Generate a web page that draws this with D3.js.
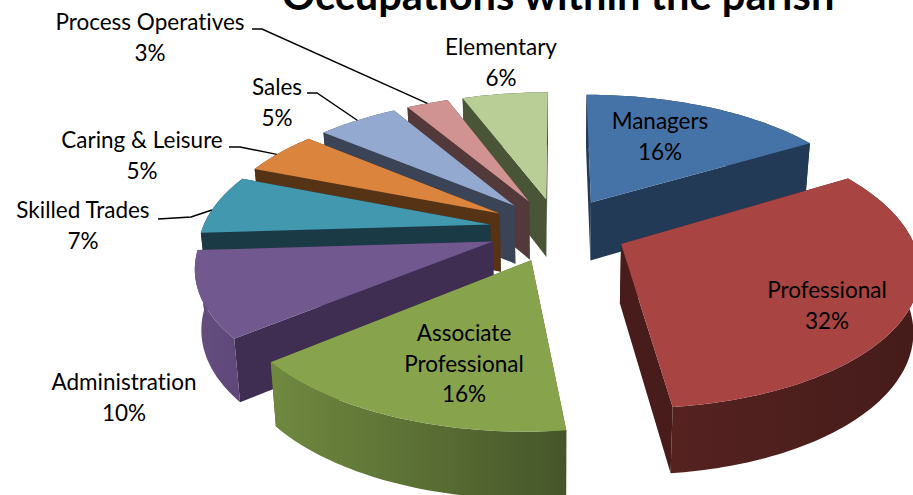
<!DOCTYPE html>
<html>
<head>
<meta charset="utf-8">
<script src="https://cdn.jsdelivr.net/npm/d3@7"></script>
<style>
  html, body { margin: 0; background: #fff; overflow: hidden; }
  text { font-family: Lato, "Open Sans", sans-serif; fill: #000; font-variant-ligatures: none; }
</style>
</head>
<body>
<svg id="chart" width="913" height="495"></svg>
<script>
// Datos (las etiquetas van redondeadas)
const categories = ["Managers", "Professional", "Associate Professional", "Administration",
  "Skilled Trades", "Caring & Leisure", "Sales", "Process Operatives", "Elementary"];
const shares = [16.4, 31.8, 15.8, 10, 7, 5.1, 5.4, 2.8, 5.7];

const topColors  = ["#4673a7", "#a84442", "#87a34c", "#71588f", "#4198af", "#db843d", "#93a9cf", "#d19392", "#b9cd96"];
const sideColors = ["#233a57", "#471c1a", "#46562a", "#402d52", "#1a3a45", "#573316", "#3b4357", "#533939", "#4a5436"];
const rimLeft    = ["#233a57", "#552220", "#70893f", "#644e80", "#1a3a45", "#573316", "#3b4357", "#533939", "#4a5436"];
const rimRight   = ["#233a57", "#451c1a", "#46562a", "#5f4878", "#1a3a45", "#573316", "#3b4357", "#533939", "#4a5436"];

// orden de pintado: del fondo hacia el frente
const paintOrder = [8, 7, 6, 5, 4, 3, 2, 0, 1];

// Layout de etiquetas (centro, linea base), codos de las guias y punto del borde donde llegan
const labelLayout = {
  "Managers": { x: 660, y: 129, lines: ["Managers"] },
  "Professional": { x: 827, y: 298, lines: ["Professional"] },
  "Associate Professional": { x: 464, y: 341, lines: ["Associate", "Professional"] },
  "Administration": { x: 124, y: 390, lines: ["Administration"] },
  "Skilled Trades": { x: 83, y: 218, lines: ["Skilled Trades"], leader: [[158, 219], [191, 217]], at: 0.4 },
  "Caring & Leisure": { x: 142, y: 148, lines: ["Caring & Leisure"], leader: [[229, 147], [240, 147]], at: 0.45 },
  "Sales": { x: 277, y: 95, lines: ["Sales"], leader: [[307, 93], [317, 93]], at: 0.5 },
  "Process Operatives": { x: 150, y: 30, lines: ["Process Operatives"], leader: [[252, 29], [262, 29]], at: 0.5 },
  "Elementary": { x: 501, y: 55, lines: ["Elementary"] }
};

const explode = 0.24, persp = 0.16, dropPx = 59, shrink = 0.018;

const svg = d3.select('#chart');
const defs = svg.append('defs');

const x = d3.scaleLinear().domain([-1, 1]).range([558 - 288, 558 + 288]);
const y = d3.scaleLinear().domain([-1, 1]).range([229.5 + 133, 229.5 - 133]);

// plano del pie -> pantalla, z=0 arriba, z=1 abajo
function project(wx, wy, z) {
  const w = 1 + persp * wy;
  const sx = x(0) + (x(wx / w) - x(0)) * (1 - shrink * z);
  const sy = y(wy / w) + dropPx * z / Math.pow(w, 0.6);
  return [sx, sy];
}

const pie = d3.pie().sort(null).value(d => d);
const arcs = pie(shares);
const line = d3.line();

function apex(a) {
  const mid = (a.startAngle + a.endAngle) / 2;
  return [explode * Math.sin(mid), explode * Math.cos(mid)];
}
function rimPoint(a, t) {
  const c = apex(a);
  return [c[0] + Math.sin(t), c[1] + Math.cos(t)];
}
function rimSamples(a) {
  const n = Math.ceil((a.endAngle - a.startAngle) / 0.02);
  return d3.range(n + 1).map(i => rimPoint(a, a.startAngle + (a.endAngle - a.startAngle) * i / n));
}

paintOrder.forEach(i => {
  const a = arcs[i];
  const c = apex(a);
  const rim = rimSamples(a);
  const g = svg.append('g').attr('class', 'slice');

  const grad = defs.append('linearGradient').attr('id', 'rim' + i);
  grad.append('stop').attr('offset', '0%').attr('stop-color', rimLeft[i]);
  grad.append('stop').attr('offset', '100%').attr('stop-color', rimRight[i]);

  // paredes radiales
  [rim[0], rim[rim.length - 1]].forEach(p => {
    const quad = [project(c[0], c[1], 0), project(p[0], p[1], 0),
      project(p[0], p[1], 1), project(c[0], c[1], 1)];
    g.append('path').attr('d', line(quad) + 'Z').attr('fill', sideColors[i]);
  });

  // pared exterior
  const outer = rim.map(p => project(p[0], p[1], 0))
    .concat(rim.slice().reverse().map(p => project(p[0], p[1], 1)));
  g.append('path').attr('d', line(outer) + 'Z').attr('fill', `url(#rim${i})`);

  // cara superior
  const top = [project(c[0], c[1], 0)].concat(rim.map(p => project(p[0], p[1], 0)));
  g.append('path').attr('d', line(top) + 'Z').attr('fill', topColors[i]);
});

// lineas guia
categories.forEach((name, i) => {
  const l = labelLayout[name];
  if (!l.leader) return;
  const a = arcs[i];
  const p = rimPoint(a, a.startAngle + (a.endAngle - a.startAngle) * l.at);
  svg.append('path')
    .attr('d', line(l.leader.concat([project(p[0], p[1], 0)])))
    .attr('fill', 'none').attr('stroke', '#000').attr('stroke-width', 1.4);
});

// etiquetas
categories.forEach((name, i) => {
  const l = labelLayout[name];
  const rows = l.lines.concat([Math.round(shares[i]) + '%']);
  const t = svg.append('text').attr('text-anchor', 'middle').style('font-size', '22.5px');
  rows.forEach((r, k) => {
    t.append('tspan').attr('x', l.x).attr('y', l.y + k * 30.5).text(r);
  });
});

svg.append('text')
  .attr('x', 558).attr('y', 10)
  .attr('text-anchor', 'middle')
  .style('font-size', '41.6px').style('font-weight', 700)
  .text('Occupations within the parish');
</script>
</body>
</html>
